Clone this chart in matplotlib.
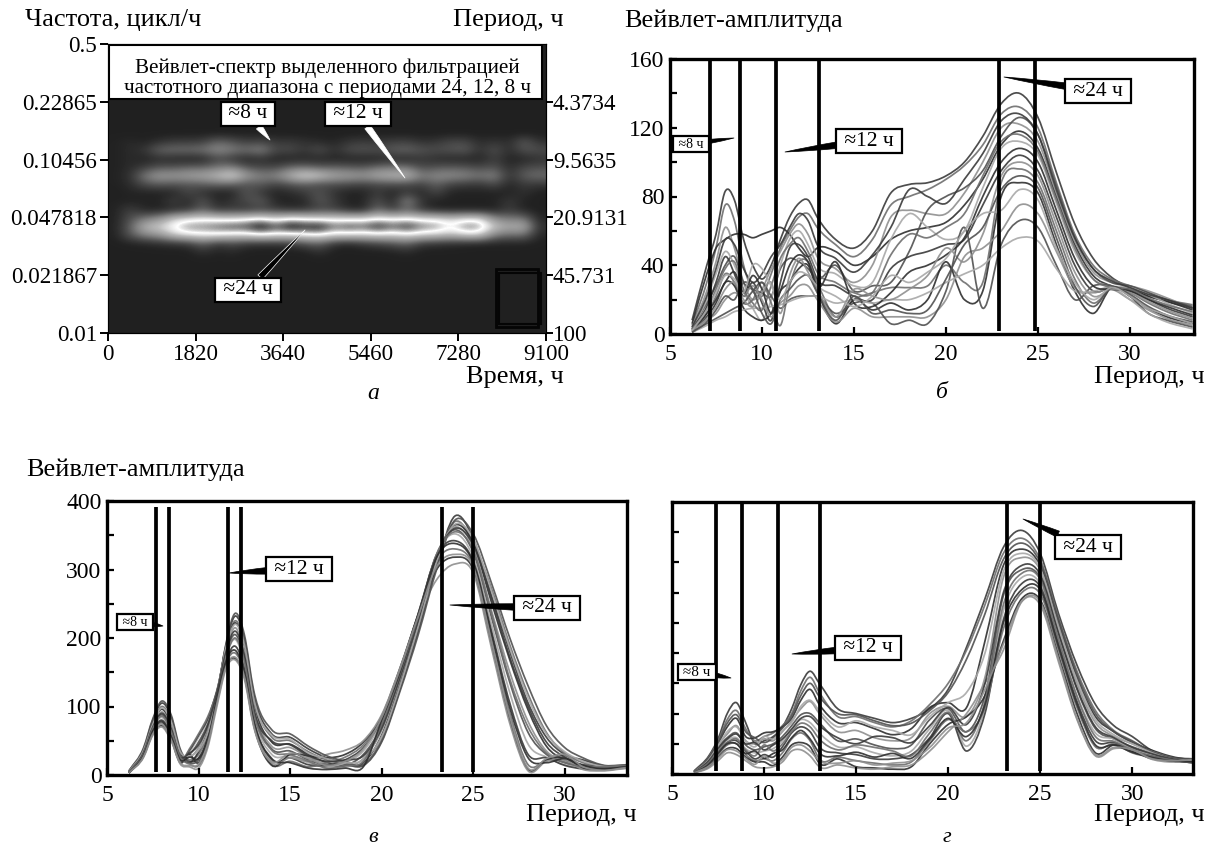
import numpy as np
import matplotlib
matplotlib.use('Agg')
import matplotlib.pyplot as plt
from matplotlib.colors import LinearSegmentedColormap
from matplotlib.patches import PathPatch, Rectangle
from matplotlib.path import Path

plt.rcParams['font.family'] = ['Liberation Serif', 'DejaVu Serif']

W, H = 1214, 851

# wavelet spectrum, rows from high to low frequency, columns along time
SPECTRUM_ROWS = [
    [.05,.08,.05,.10,.14,.14,.15,.28,.22,.15,.18,.12,.13,.10,.08,.06,.12,.14,.12,.15,.16,.10,.12,.18,.18,.08,.12,.08,.25,.10],
    [.05,.08,.12,.28,.30,.30,.32,.40,.35,.30,.38,.18,.20,.12,.22,.10,.20,.22,.20,.25,.28,.22,.20,.22,.25,.10,.22,.08,.22,.20],
    [.05,.08,.05,.08,.06,.05,.05,.18,.12,.05,.10,.05,.05,.06,.06,.05,.05,.05,.05,.08,.06,.12,.08,.06,.06,.05,.15,.05,.06,.10],
    [.05,.08,.14,.22,.22,.26,.26,.32,.36,.22,.18,.18,.28,.30,.24,.26,.24,.22,.30,.32,.32,.18,.22,.24,.22,.18,.22,.08,.18,.20],
    [.05,.10,.34,.46,.44,.48,.50,.56,.68,.46,.36,.38,.54,.68,.62,.50,.48,.44,.52,.54,.58,.34,.40,.40,.38,.32,.38,.10,.26,.30],
    [.05,.08,.20,.24,.22,.22,.24,.28,.26,.20,.24,.16,.22,.24,.18,.20,.18,.16,.18,.20,.18,.16,.26,.16,.14,.12,.20,.06,.14,.12],
    [.04,.06,.05,.05,.06,.18,.10,.05,.05,.24,.12,.05,.08,.14,.22,.10,.05,.05,.14,.05,.14,.06,.18,.05,.05,.05,.05,.05,.10,.04],
    [.05,.05,.06,.05,.16,.06,.24,.06,.12,.18,.26,.06,.05,.06,.24,.14,.05,.06,.22,.05,.42,.10,.05,.05,.05,.05,.05,.14,.05,.04],
    [.05,.16,.06,.05,.08,.12,.26,.12,.14,.12,.16,.14,.10,.12,.16,.16,.08,.06,.30,.14,.26,.12,.06,.05,.05,.05,.05,.14,.06,.04],
    [.05,.20,.32,.40,.60,.66,.68,.66,.64,.68,.72,.64,.72,.68,.66,.66,.66,.66,.70,.68,.70,.66,.66,.60,.66,.66,.38,.32,.32,.06],
    [.05,.25,.55,.62,.72,.82,.82,.86,.90,.90,1.0,.88,1.0,.94,.98,.84,.90,.86,.96,.86,.94,.84,.82,.72,.84,.82,.60,.50,.55,.10],
    [.05,.22,.36,.42,.60,.66,.68,.68,.64,.64,.70,.66,.64,.68,.70,.64,.64,.62,.64,.62,.66,.62,.60,.55,.62,.62,.34,.28,.30,.06],
    [.04,.05,.06,.08,.10,.12,.26,.12,.18,.12,.10,.10,.12,.20,.26,.10,.06,.12,.16,.20,.26,.12,.10,.08,.06,.05,.05,.05,.05,.04],
    [.04,.04,.04,.04,.04,.04,.10,.05,.08,.04,.04,.04,.04,.04,.10,.04,.04,.04,.04,.05,.08,.04,.04,.04,.04,.04,.04,.04,.04,.04],
]
FREQ_TICKS = [0.5, 0.22865, 0.10456, 0.047818, 0.021867, 0.01]
FREQ_LABELS = ['0.5', '0.22865', '0.10456', '0.047818', '0.021867', '0.01']
PERIOD_TICKS = ['4.3734', '9.5635', '20.9131', '45.731', '100']
TIME_TICKS = [0, 1820, 3640, 5460, 7280, 9100]

PERIOD = [6.2,7,7.5,8,8.5,9,9.5,10,10.5,11,11.5,12,12.5,13,14,15,16,17,18,19,20,21,22,23,24,25,26,27,28,29,30,31,32,33.4]

CURVES_B = [
    [8,40,58,83,78,55,40,32,40,55,68,76,78,68,55,50,60,82,87,88,92,100,115,134,140,126,94,64,44,33,27,22,19,15],
    [5,30,50,75,66,40,25,22,35,50,60,68,70,62,52,45,55,75,80,84,90,98,110,128,132,120,88,58,40,32,28,24,20,17],
    [6,35,50,55,58,58,56,58,60,62,58,50,45,50,48,40,45,55,60,62,65,75,90,110,118,108,80,52,34,28,26,22,19,14],
    [4,25,42,62,50,30,20,26,38,48,58,64,58,45,38,30,40,68,72,70,70,82,100,120,122,112,82,54,36,30,28,25,21,15],
    [3,18,28,40,45,30,26,24,22,38,44,42,38,32,40,25,28,30,48,72,80,85,95,115,126,116,86,56,38,30,28,24,20,16],
    [3,20,35,48,40,25,15,8,20,40,55,60,52,40,35,28,30,55,70,62,55,60,85,108,112,104,76,48,32,28,27,23,18,12],
    [3,16,30,45,35,22,30,18,8,30,50,52,45,32,28,22,20,38,45,48,52,55,75,95,104,95,68,40,25,27,25,20,15,10],
    [2,12,22,35,30,18,20,30,18,5,28,42,42,30,10,20,24,27,27,28,40,30,30,88,96,88,60,32,18,27,24,18,13,8],
    [2,10,18,30,28,15,10,8,12,25,30,38,40,25,6,20,14,18,14,20,42,20,25,80,88,82,52,25,12,27,22,15,10,6],
    [1,8,12,20,24,22,28,20,10,18,22,28,28,20,7,15,10,10,10,10,20,45,50,60,75,70,48,27,24,26,20,14,9,5],
    [1,6,9,12,15,18,25,30,22,15,20,22,22,22,12,18,18,6,8,6,25,62,15,52,66,62,40,20,28,28,22,12,8,4],
    [1,5,8,10,13,14,15,15,16,17,19,21,22,22,18,20,18,20,20,24,30,35,40,50,56,54,38,25,25,27,20,12,7,3],
    [4,22,38,55,52,38,30,35,45,52,62,70,66,52,44,36,46,62,84,80,76,90,105,124,128,116,84,56,38,31,27,23,20,15],
    [3,14,26,38,42,26,18,14,28,44,52,56,48,36,30,24,24,46,58,56,62,70,92,112,116,106,78,50,32,27,26,21,17,13],
    [2,12,20,30,36,24,34,26,12,25,40,46,42,28,42,18,16,24,36,40,46,56,80,100,108,100,72,44,28,26,25,20,16,11],
    [2,9,16,26,30,20,16,24,30,12,34,44,36,26,10,26,22,20,26,34,50,42,58,92,100,92,64,36,22,26,24,19,14,9],
    [1,7,14,22,20,30,26,12,6,20,26,32,34,24,8,22,12,14,12,14,32,52,62,84,92,85,56,28,16,27,23,16,11,7],
    [2,14,24,34,32,24,40,38,28,20,30,36,34,28,22,16,22,34,30,36,44,60,70,72,84,78,50,30,20,27,22,15,11,6],
]

CURVES_V = [
    [6,38,80,105,85,35,20,25,55,115,190,232,200,120,60,55,38,25,18,15,50,125,210,305,378,345,262,180,105,55,30,22,14,12],
    [5,36,76,100,80,32,22,30,60,118,188,225,195,115,55,50,34,22,16,14,52,128,215,310,370,340,272,190,118,62,32,18,13,12],
    [5,35,75,96,74,30,18,34,65,120,186,222,188,108,48,45,30,18,14,18,58,134,222,316,365,338,252,168,95,42,22,15,12,13],
    [4,34,72,92,70,28,26,40,70,122,182,215,178,100,42,40,26,16,12,24,65,140,228,320,362,332,240,150,78,35,20,14,12,15],
    [4,32,70,88,66,26,30,48,75,122,178,205,170,95,38,35,22,14,14,30,72,146,232,322,358,325,230,135,62,30,18,13,13,15],
    [4,30,68,84,62,24,34,55,80,124,174,198,162,88,30,28,18,12,18,35,78,150,235,322,352,318,220,120,45,26,15,11,12,13],
    [3,30,65,80,58,22,36,58,82,122,168,188,155,82,22,25,15,14,22,40,82,152,236,320,342,312,210,105,30,25,14,9,10,12],
    [3,28,62,76,55,20,38,60,85,120,164,178,148,78,16,20,12,18,26,44,84,154,235,312,330,306,198,90,15,22,28,12,8,10],
    [3,28,60,72,52,18,30,18,55,110,160,170,145,75,14,30,28,25,30,48,86,156,234,300,318,300,190,80,8,22,25,10,8,14],
    [3,26,58,70,50,16,12,10,40,100,155,168,140,72,18,25,20,30,36,50,88,156,230,285,308,295,185,75,6,20,22,8,6,10],
    [6,40,82,108,88,38,18,22,50,112,192,236,205,125,66,60,42,28,20,14,48,122,205,300,372,352,280,200,130,72,40,25,15,12],
    [5,36,74,98,78,34,28,36,62,118,186,220,190,112,58,52,32,24,18,22,56,130,218,312,366,345,268,185,112,60,34,20,13,12],
    [4,33,70,90,68,27,32,44,72,120,180,210,175,98,50,44,28,20,22,28,68,142,226,318,360,336,258,172,100,48,26,14,10,13],
    [4,31,68,86,64,26,16,14,45,108,172,200,166,92,36,30,20,10,14,20,74,148,232,322,355,328,236,140,70,32,18,12,12,14],
    [3,29,64,78,56,22,26,24,50,112,166,182,150,80,24,18,10,8,10,12,80,150,234,318,338,310,205,98,25,18,24,14,9,12],
    [3,27,60,74,52,18,14,16,46,104,158,172,144,74,20,32,24,14,20,38,84,154,232,304,322,304,195,85,10,24,30,12,7,11],
]

CURVES_G = [
    [5,30,58,100,118,85,50,55,62,78,108,148,170,150,108,100,92,85,92,108,140,210,290,375,403,365,265,180,115,80,62,40,28,25],
    [4,28,54,90,105,75,55,62,68,80,100,138,160,135,95,95,85,78,88,115,150,205,280,365,390,355,258,170,105,72,55,38,28,24],
    [4,26,50,78,92,62,60,68,70,78,92,122,140,115,85,85,75,65,75,110,118,110,220,345,372,345,250,160,95,70,52,40,30,22],
    [4,24,48,66,80,55,50,58,55,70,88,108,120,100,70,72,60,55,60,100,112,95,160,325,358,338,245,150,85,62,50,38,28,20],
    [3,22,44,60,68,48,40,45,50,62,80,98,100,85,55,58,48,42,48,90,108,70,130,295,338,325,235,140,75,58,45,35,25,20],
    [3,20,40,56,60,42,35,38,42,55,75,90,85,68,45,45,35,30,38,75,105,46,110,270,325,315,225,130,68,58,42,32,24,18],
    [3,18,36,52,55,38,25,32,28,45,68,78,70,45,35,32,25,25,32,60,100,38,100,255,315,310,215,120,55,52,38,30,24,18],
    [2,15,32,48,50,32,22,25,22,35,58,68,55,25,28,22,18,15,20,55,90,70,110,240,300,298,205,110,45,50,35,28,22,20],
    [2,12,28,42,42,28,20,20,14,28,48,52,45,18,25,12,10,8,12,50,82,95,130,220,290,288,195,100,35,48,38,26,22,22],
    [2,10,22,35,32,22,12,10,12,20,38,40,30,12,15,10,8,12,15,38,70,100,150,205,285,280,185,90,30,42,40,25,20,24],
    [4,27,52,84,98,70,60,52,60,76,96,130,150,128,100,98,88,80,84,105,135,190,265,355,382,350,255,165,100,70,54,38,28,24],
    [3,24,46,70,78,55,45,62,58,72,85,112,122,105,78,88,78,72,65,95,118,135,200,335,365,340,240,155,90,65,50,36,26,20],
    [3,22,42,58,66,50,52,40,48,58,74,92,95,80,60,50,62,60,52,80,110,82,150,300,345,330,232,142,78,60,44,34,26,19],
    [3,19,38,52,58,40,30,48,38,50,70,84,78,58,40,48,44,38,30,68,102,55,120,280,332,322,222,128,62,54,40,30,24,18],
    [2,16,34,50,50,34,38,26,34,40,60,72,58,35,30,36,28,34,26,58,92,62,115,250,305,305,210,115,48,48,36,28,22,20],
    [2,13,26,40,38,26,16,30,18,24,44,48,38,22,18,22,15,18,22,44,76,85,140,215,286,285,190,92,32,44,40,26,22,24],
]

VLINES_B = [7.2, 8.83, 10.76, 13.1, 22.88, 24.84]
VLINES_V = [7.7, 8.4, 11.6, 12.33, 23.32, 24.97]
VLINES_G = [7.39, 8.78, 10.77, 13.04, 23.2, 24.98]

GREYS = ['#3a3a3a', '#6e6e6e', '#2e2e2e', '#8f8f8f', '#505050', '#a8a8a8']
FS = 17
FS_LABEL = 19


def new_axes(left, top, right, bottom):
    return fig.add_axes([left / W, 1 - bottom / H, (right - left) / W, (bottom - top) / H])


def label(x, y, s, ha='left', fontsize=FS_LABEL, **kw):
    fig.text(x / W, 1 - y / H, s, ha=ha, va='center', fontsize=fontsize, **kw)


def callout(ax, s, box, tip, face='k', edge='k', fontsize=15.5):
    ax.annotate(' ' + s + ' ', xy=(tip[0], H - tip[1]), xytext=(box[0], H - box[1]),
                xycoords='figure pixels', textcoords='figure pixels',
                ha='center', va='center', fontsize=fontsize, zorder=10,
                bbox=dict(boxstyle='square,pad=0.12', fc='w', ec='k', lw=1.6),
                arrowprops=dict(arrowstyle='wedge,tail_width=0.3,shrink_factor=0.6',
                                fc=face, ec=edge, lw=0.5, shrinkA=0, shrinkB=0))


def smooth_path(x, y):
    x = np.array(x, dtype=float)
    y = np.array(y, dtype=float)
    slopes = np.gradient(y, x)
    verts = [(x[0], y[0])]
    codes = [Path.MOVETO]
    for i in range(len(x) - 1):
        h = (x[i + 1] - x[i]) / 3
        verts += [(x[i] + h, y[i] + slopes[i] * h),
                  (x[i + 1] - h, y[i + 1] - slopes[i + 1] * h),
                  (x[i + 1], y[i + 1])]
        codes += [Path.CURVE4] * 3
    return Path(verts, codes)


def line_panel(box, curves, vlines, ymax, vtop, xmax, yticks, ylabels, yminor):
    ax = new_axes(*box)
    for i, c in enumerate(curves):
        ax.add_patch(PathPatch(smooth_path(PERIOD, c), fill=False, lw=1.25,
                               ec=GREYS[i % len(GREYS)], alpha=0.9))
    ax.vlines(vlines, ymax * 0.012, vtop, color='k', lw=2.7, zorder=5)
    ax.set_xlim(5, xmax)
    ax.set_ylim(0, ymax)
    ax.set_xticks([5, 10, 15, 20, 25, 30])
    ax.set_yticks(yticks)
    ax.set_yticklabels(ylabels)
    ax.set_yticks(yminor, minor=True)
    ax.tick_params(axis='both', which='both', direction='in', length=5, width=1.6, labelsize=FS)
    ax.tick_params(axis='x', pad=7)
    ax.tick_params(axis='y', pad=4)
    for s in ax.spines.values():
        s.set_linewidth(2.4)
    return ax


fig = plt.figure(figsize=(W / 100, H / 100), dpi=100)

# panel a
spectrum = np.vstack([np.full((11, 30), .04), np.array(SPECTRUM_ROWS), np.full((9, 30), .04)])
cmap = LinearSegmentedColormap.from_list('wrap', [
    (0, '#1c1c1c'), (.05, '#222222'), (.2, '#4e4e4e'), (.35, '#808080'), (.55, '#b8b8b8'),
    (.7, '#ffffff'), (.82, '#858585'), (.95, '#101010'), (1, '#0c0c0c')])
ax_a = new_axes(108, 44, 546, 333)
ax_a.imshow(spectrum, cmap=cmap, vmin=0, vmax=1, aspect='auto', interpolation='bicubic',
            extent=(0, 9100, np.log10(0.01), np.log10(0.5)))
ax_a.set_xticks(TIME_TICKS)
ax_a.set_yticks(np.log10(FREQ_TICKS))
ax_a.set_yticklabels(FREQ_LABELS)
ax_a.tick_params(direction='out', length=6, width=1.4, labelsize=16.6, pad=2)
ax_r = ax_a.twinx()
ax_r.set_ylim(ax_a.get_ylim())
ax_r.set_yticks(np.log10(FREQ_TICKS[1:]))
ax_r.set_yticklabels(PERIOD_TICKS)
ax_r.tick_params(direction='out', length=5, width=1.4, labelsize=16.6, pad=0)
ax_a.add_patch(Rectangle((8060, np.log10(0.0108)), 880, 0.34, fill=False, ec='#050505', lw=2))
ax_a.add_patch(Rectangle((8130, np.log10(0.0113)), 860, 0.30, fill=False, ec='#050505', lw=1.5))

ax_a.add_patch(Rectangle((20, np.log10(0.2385)), 9000, np.log10(0.495) - np.log10(0.2385),
                         fc='w', ec='k', lw=1.5, zorder=6))
ax_a.text(4560, np.log10(0.36), 'Вейвлет-спектр выделенного фильтрацией', ha='center', va='center',
          fontsize=15.2, zorder=7)
ax_a.text(4560, np.log10(0.275), 'частотного диапазона с периодами 24, 12, 8 ч', ha='center', va='center',
          fontsize=15.2, zorder=7)
callout(ax_r, '≈8 ч', (248, 114), (270, 140), face='w', edge='w')
callout(ax_r, '≈12 ч', (358, 114), (405, 178), face='w', edge='w')
callout(ax_r, '≈24 ч', (248, 290), (305, 230), face='k', edge='w')

# panel b
ax_b = line_panel((670, 59, 1194, 334), CURVES_B, VLINES_B, 160, 160, 33.48,
                  [0, 40, 80, 120, 160], ['0', '40', '80', '120', '160'], [20, 60, 100, 140])
callout(ax_b, '≈24 ч', (1098, 91), (1004, 77))
callout(ax_b, '≈12 ч', (869, 141), (785, 152))
callout(ax_b, '≈8 ч', (691, 144), (734, 138), fontsize=10)

# panel v
ax_v = line_panel((107, 501, 627, 775), CURVES_V, VLINES_V, 400, 391, 33.4,
                  [0, 100, 200, 300, 400], ['0', '100', '200', '300', '400'], [50, 150, 250, 350])
callout(ax_v, '≈12 ч', (299, 569), (229, 573))
callout(ax_v, '≈24 ч', (547, 608), (450, 605))
callout(ax_v, '≈8 ч', (135, 622), (163, 626), fontsize=10)

# panel g, its scale has no labels in the original
ax_g = line_panel((672, 502, 1193, 774), CURVES_G, VLINES_G, 450, 450, 33.3,
                  [0, 50, 100, 150, 200, 250, 300, 350, 400], [''] * 9, [])
callout(ax_g, '≈24 ч', (1088, 547), (1023, 519))
callout(ax_g, '≈12 ч', (868, 648), (792, 654))
callout(ax_g, '≈8 ч', (697, 672), (731, 678), fontsize=11)

# outside labels
label(25, 20, 'Частота, цикл/ч')
label(564, 20, 'Период, ч', ha='right')
label(564, 377, 'Время, ч', ha='right')
label(373, 394, 'а', ha='center', fontsize=17, style='italic')
label(624, 21, 'Вейвлет-амплитуда')
label(1205, 377, 'Период, ч', ha='right')
label(942, 393, 'б', ha='center', fontsize=17, style='italic')
label(26, 470, 'Вейвлет-амплитуда')
label(637, 815, 'Период, ч', ha='right')
label(373, 838, 'в', ha='center', fontsize=16, style='italic')
label(1205, 815, 'Период, ч', ha='right')
label(947, 838, 'г', ha='center', fontsize=16, style='italic')

fig.savefig('out.png', dpi=100)
